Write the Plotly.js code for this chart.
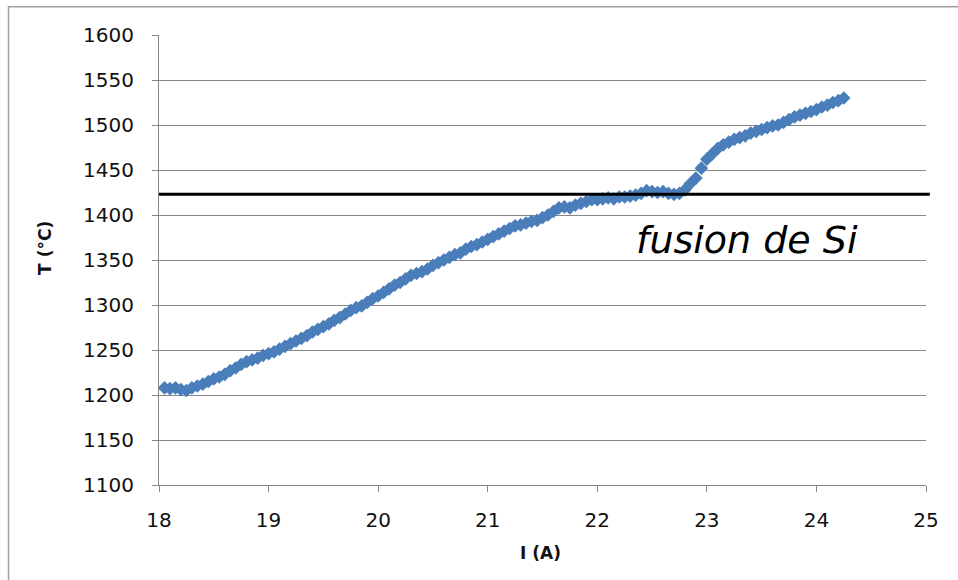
<!DOCTYPE html>
<html>
<head>
<meta charset="utf-8">
<script src="https://cdn.plot.ly/plotly-3.0.1.min.js"></script>
<style>
html,body{margin:0;padding:0;background:#fff;}
#chart{width:958px;height:580px;}
</style>
</head>
<body>
<div id="chart"></div>
<script>
// Current I (A)
const current = [
18.05,18.10,18.15,18.20,18.25,18.30,18.35,18.40,18.45,18.50,
18.55,18.60,18.65,18.70,18.75,18.80,18.85,18.90,18.95,19.00,
19.05,19.10,19.15,19.20,19.25,19.30,19.35,19.40,19.45,19.50,
19.55,19.60,19.65,19.70,19.75,19.80,19.85,19.90,19.95,20.00,
20.05,20.10,20.15,20.20,20.25,20.30,20.35,20.40,20.45,20.50,
20.55,20.60,20.65,20.70,20.75,20.80,20.85,20.90,20.95,21.00,
21.05,21.10,21.15,21.20,21.25,21.30,21.35,21.40,21.45,21.50,
21.55,21.60,21.65,21.70,21.75,21.80,21.85,21.90,21.95,22.00,
22.05,22.10,22.15,22.20,22.25,22.30,22.35,22.40,22.45,22.50,
22.55,22.60,22.65,22.70,22.75,22.80,22.85,22.90,22.95,23.00,
23.05,23.10,23.15,23.20,23.25,23.30,23.35,23.40,23.45,23.50,
23.55,23.60,23.65,23.70,23.75,23.80,23.85,23.90,23.95,24.00,
24.05,24.10,24.15,24.20,24.25
];
// Temperature T (°C)
const temperature = [
1208,1207,1208,1206,1205,1208,1210,1212,1215,1218,
1220,1223,1227,1230,1234,1237,1239,1241,1244,1246,
1248,1251,1254,1257,1260,1263,1266,1270,1273,1276,
1279,1283,1286,1290,1294,1297,1299,1303,1307,1310,
1314,1318,1322,1325,1329,1333,1335,1337,1340,1344,
1347,1350,1353,1356,1358,1362,1365,1367,1370,1373,
1376,1379,1382,1385,1388,1389,1391,1393,1394,1397,
1400,1404,1408,1409,1408,1411,1413,1415,1417,1417,
1418,1419,1418,1420,1420,1421,1422,1424,1427,1426,
1425,1426,1424,1423,1424,1428,1435,1441,1452,1462,
1468,1474,1478,1481,1484,1486,1488,1491,1493,1495,
1497,1499,1500,1503,1506,1509,1511,1513,1515,1517,
1520,1522,1525,1527,1530
];
const xTicks = [18,19,20,21,22,23,24,25];
const yTicks = [1100,1150,1200,1250,1300,1350,1400,1450,1500,1550,1600];
const meltingT = 1423;
const xTitle = 'I (A)';
const yTitle = 'T (°C)';
const noteText = 'fusion de Si';

const tickFont = {family:'DejaVu Sans', size:20, color:'#111'};

const data = [{
  x: current, y: temperature, type:'scatter', mode:'markers',
  marker:{symbol:'diamond', size:10.5, color:'#4a7ebb', line:{width:0}},
  hoverinfo:'skip'
}];

const layout = {
  width:958, height:580,
  margin:{l:159, r:32, t:35, b:95},
  paper_bgcolor:'#fff', plot_bgcolor:'#fff',
  showlegend:false,
  xaxis:{
    range:[18,25], tickvals:xTicks, ticktext:xTicks.map(String),
    showgrid:false, zeroline:false,
    showline:true, linecolor:'#868686', linewidth:1,
    ticks:'outside', ticklen:6, tickcolor:'#868686',
    ticklabelstandoff:11,
    tickfont:tickFont
  },
  yaxis:{
    range:[1100,1600], tickvals:yTicks, ticktext:yTicks.map(String),
    showgrid:true, gridcolor:'#868686', gridwidth:1, zeroline:false,
    showline:true, linecolor:'#868686', linewidth:1,
    ticks:'outside', ticklen:6, tickcolor:'#868686',
    ticklabelstandoff:14,
    tickfont:tickFont
  },
  shapes:[
    {type:'line', xref:'paper', yref:'y', x0:0, x1:1.005, y0:meltingT, y1:meltingT,
     line:{color:'#000', width:3}},
    {type:'rect', xref:'paper', yref:'paper', x0:-0.1962, x1:1.05, y0:-0.25, y1:1.063,
     line:{color:'#a0a0a0', width:1.5}, fillcolor:'rgba(0,0,0,0)', layer:'below'}
  ],
  annotations:[
    {text:'<b>'+xTitle+'</b>', xref:'paper', yref:'paper', x:0.497, y:-0.152,
     xanchor:'center', yanchor:'middle', showarrow:false,
     font:{family:'DejaVu Sans', size:17, color:'#111'}},
    {text:'<b>'+yTitle+'</b>', xref:'paper', yref:'paper', x:-0.148, y:0.528,
     xanchor:'center', yanchor:'middle', showarrow:false, textangle:-90,
     font:{family:'DejaVu Sans', size:17, color:'#111'}},
    {text:'<i>'+noteText+'</i>', xref:'x', yref:'y', x:23.37, y:1372,
     xanchor:'center', yanchor:'middle', showarrow:false,
     font:{family:'DejaVu Sans', size:38, color:'#000'}}
  ]
};

Plotly.newPlot('chart', data, layout, {displayModeBar:false, staticPlot:true});
</script>
</body>
</html>
